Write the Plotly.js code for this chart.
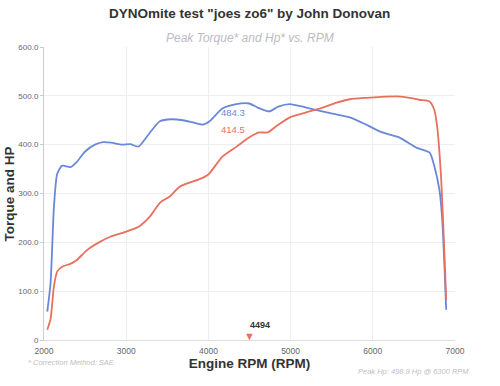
<!DOCTYPE html>
<html><head><meta charset="utf-8">
<script src="https://cdn.plot.ly/plotly-3.0.1.min.js"></script>
<style>html,body{margin:0;padding:0;background:#fff}#c{width:500px;height:386px}</style>
</head><body><div id="c"></div>
<script>
const torqueRpm = [2040,2080,2120,2160,2220,2320,2400,2500,2620,2720,2820,2950,3050,3150,3290,3410,3550,3690,3800,3930,4015,4170,4340,4494,4600,4740,4850,4990,5190,5440,5720,5920,6115,6320,6530,6690,6750,6810,6845,6870,6893];
const torque    = [58,117,270,340,357,354,365,386,400,405,404,400,401,396,425,448,452,450,446,441,448,474,483,484.3,476,468,478,483,476,466,456,441,425,415,394,384,355,308,246,158,62];
const hpRpm = [2040,2080,2120,2160,2220,2320,2400,2530,2680,2800,3000,3130,3170,3290,3410,3530,3650,3900,4000,4173,4343,4494,4620,4720,4820,4990,5190,5390,5560,5720,5920,6100,6300,6450,6565,6686,6747,6783,6832,6868,6893];
const hp    = [21,43,109,140,150,156,164,185,201,211,222,230,234,253,281,294,314,330,339,376,396,414.5,425,425,437,456,466,476,486,493,496,498,498.9,496,492,489,472,437,329,191,82];
const peakRpm = 4494, peakTorque = 484.3, hpAtPeak = 414.5;
const yTicks = [0,100,200,300,400,500,600];
const yTickText = ['0','100.0','200.0','300.0','400.0','500.0','600.0'];
const xTicks = [2000,3000,4000,5000,6000,7000];

const blue = '#6a88d8', red = '#e8705f';
const data = [
 {x: torqueRpm, y: torque, type:'scatter', mode:'lines', line:{color:blue,width:1.8,shape:'spline',smoothing:0.6}, hoverinfo:'none'},
 {x: hpRpm, y: hp, type:'scatter', mode:'lines', line:{color:red,width:1.8,shape:'spline',smoothing:0.6}, hoverinfo:'none'}
];
const layout = {
 width:500, height:386, paper_bgcolor:'#fff', plot_bgcolor:'#fff',
 margin:{l:44,r:45,t:47,b:46}, showlegend:false,
 font:{family:'Liberation Sans, Arial, sans-serif'},
 xaxis:{range:[2000,7000], tickvals:xTicks, tickfont:{size:8.5,color:'#666'}, showgrid:true, gridcolor:'#eeeeee', zeroline:false,
   showline:true, linecolor:'#dddddd', ticks:'', ticklabelstandoff:3, title:{text:'<b>Engine RPM (RPM)</b>', font:{size:13.5,color:'#333'}, standoff:0}},
 yaxis:{range:[0,600], tickvals:yTicks, ticktext:yTickText, tickfont:{size:8,color:'#666'}, showgrid:true, gridcolor:'#eeeeee', zeroline:false,
   showline:true, linecolor:'#cccccc', ticks:'outside', ticklen:3, tickcolor:'#ccc'},
 annotations:[
  {xref:'paper',yref:'paper',x:0.5,y:1.116,xanchor:'center',yanchor:'middle',showarrow:false,text:'<b>DYNOmite test "joes zo6" by John Donovan</b>',font:{size:13.5,color:'#333'}},
  {xref:'paper',yref:'paper',x:0.5,y:1.031,xanchor:'center',yanchor:'middle',showarrow:false,text:'<i>Peak Torque* and Hp* vs. RPM</i>',font:{size:12,color:'#bbbbc4'}},
  {xref:'paper',yref:'paper',x:-0.083,y:0.5,xanchor:'center',yanchor:'middle',textangle:-90,showarrow:false,text:'<b>Torque and HP</b>',font:{size:13.5,color:'#333'}},
  {x:peakRpm,y:peakTorque,xanchor:'right',yanchor:'top',yshift:-1,xshift:-2,showarrow:false,text:String(peakTorque),font:{size:9.5,color:blue}},
  {x:peakRpm,y:hpAtPeak,xanchor:'right',yanchor:'bottom',yshift:1,xshift:-2,showarrow:false,text:String(hpAtPeak),font:{size:9.5,color:red}},
  {x:peakRpm,y:0,xanchor:'center',yanchor:'bottom',yshift:-4,showarrow:false,text:'▼',font:{size:11,color:red}},
  {x:peakRpm,y:0,xanchor:'left',yanchor:'bottom',yshift:8,xshift:-1,showarrow:false,text:'<b>'+peakRpm+'</b>',font:{size:9,color:'#333'}},
  {xref:'paper',yref:'paper',x:-0.045,y:-0.055,xanchor:'left',yanchor:'top',showarrow:false,text:'<i>* Correction Method: SAE</i>',font:{size:7.5,color:'#c0c0c0'}},
  {xref:'paper',yref:'paper',x:1.04,y:-0.085,xanchor:'right',yanchor:'top',showarrow:false,text:'<i>Peak Hp: 498.9 Hp @ 6300 RPM</i>',font:{size:7.5,color:'#c0c0c0'}}
 ]
};
Plotly.newPlot('c', data, layout, {staticPlot:true});
</script></body></html>
